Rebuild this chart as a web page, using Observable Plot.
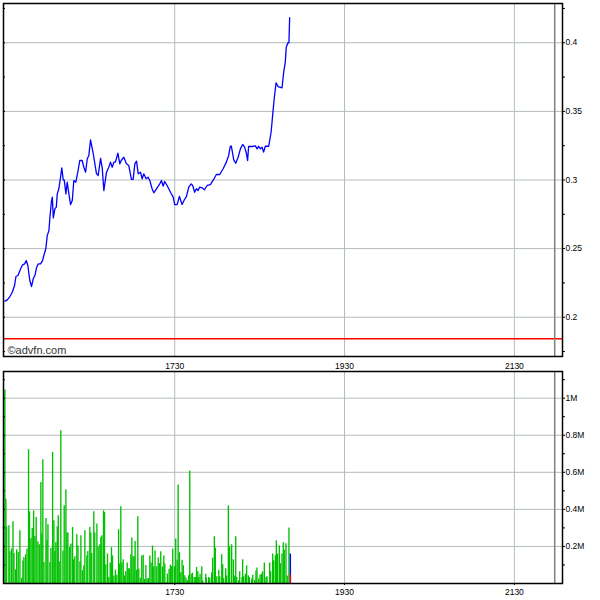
<!DOCTYPE html>
<html><head><meta charset="utf-8">
<script src="https://cdn.jsdelivr.net/npm/d3@7"></script>
<script src="https://cdn.jsdelivr.net/npm/@observablehq/plot@0.6"></script>
<style>
body{margin:0;background:#fff;}
#chart{position:relative;width:600px;height:600px;}
#chart svg{position:absolute;left:0;display:block;}
</style></head><body><div id="chart"></div>
<script>
// ---- data ----
const sessionStart = "15:30";
const viewStart = "15:29";
const viewEnd = "22:04";
const endMarker = "21:58.5";
const timeTicks = ["17:30", "19:30", "21:30"];
const prevClose = 0.1843;
const priceTicks = [0.2, 0.25, 0.3, 0.35, 0.4];
const priceMinor = [0.175, 0.225, 0.275, 0.325, 0.375, 0.425];
const priceDomain = [0.1714, 0.4286];
const volTicks = [200000, 400000, 600000, 800000, 1000000];
const volMinor = [100000, 300000, 500000, 700000, 900000, 1100000];
const volMax = 1144000;

// price: minutes after session start, price
const priceOffset = [0,1.7,3.5,5.2,6.8,7.8,9.2,11.1,12.5,13.9,
15.1,16.2,17.6,18.8,20.0,21.2,22.4,23.6,25.2,26.6,
27.5,28.9,29.9,31.1,31.8,32.8,33.5,34.2,35.3,36.3,
37.0,38.1,39.3,40.2,41.2,41.9,43.1,44.0,45.2,46.4,
47.6,48.7,50.1,51.5,52.9,54.6,55.8,57.0,58.2,59.3,
60.5,62.4,64.7,65.9,67.6,68.8,69.9,71.8,73.4,74.6,
75.8,77.0,78.1,79.8,81.2,82.2,84.0,85.9,87.5,89.4,
90.6,91.8,93.0,94.2,95.8,97.0,98.1,99.8,101.2,102.4,
104.0,105.2,107.1,109.4,110.6,111.8,112.9,114.6,117.0,118.9,
120.0,121.7,123.3,125.2,126.8,128.3,129.9,131.6,132.7,134.1,
135.3,136.5,137.6,139.3,141.0,142.9,145.2,147.5,149.4,151.8,
154.2,156.5,158.1,159.3,160.0,161.7,163.1,164.8,166.4,168.0,
169.4,170.6,171.5,172.2,174.6,177.0,178.2,179.3,180.5,181.7,
182.8,184.0,186.4,188.1,189.5,190.4,191.6,193.0,195.8,197.0,
198.1,198.8,200.0,200.7,201.2];
const priceValue = [.2117,.2127,.2151,.2182,.2231,.2297,.2304,.2353,.2382,.2389,
.2413,.2377,.2268,.2224,.2280,.2304,.2364,.2389,.2389,.2413,
.2450,.2499,.2595,.2632,.2729,.2838,.2875,.2724,.2790,.2802,
.2899,.2936,.3020,.3089,.3001,.3001,.2899,.2984,.2899,.2821,
.2851,.2996,.2984,.3057,.3142,.3142,.3093,.3057,.3155,.3179,
.3293,.3193,.3047,.3033,.3157,.3084,.2923,.3057,.3093,.3130,
.3093,.3130,.3130,.3195,.3118,.3142,.3166,.3118,.3106,.3004,
.3004,.3118,.3137,.3045,.3057,.3009,.3045,.3009,.3020,.2996,
.2936,.2907,.2936,.2972,.2996,.2955,.2989,.2960,.2911,.2875,
.2821,.2821,.2880,.2821,.2856,.2880,.2948,.2972,.2960,.2911,
.2936,.2923,.2948,.2943,.2929,.2960,.2967,.3004,.3040,.3040,
.3082,.3130,.3179,.3246,.3246,.3147,.3122,.3166,.3227,.3259,
.3239,.3195,.3142,.3244,.3244,.3249,.3227,.3246,.3227,.3239,
.3203,.3246,.3246,.3348,.3507,.3603,.3708,.3681,.3672,.3786,
.3859,.3968,.4000,.4000,.4182];

// volume: minutes after session start, volume in thousands
const volOffset = [0.0,0.7,1.2,2.8,3.5,4.7,5.7,6.4,7.6,8.3,
9.4,10.6,11.8,12.7,13.4,14.6,15.6,16.7,17.4,18.4,
19.3,20.3,21.2,22.1,23.3,24.3,25.4,26.1,26.8,27.6,
29.0,29.7,30.4,31.8,32.5,33.7,34.6,35.3,36.0,37.0,
37.7,38.8,39.5,41.0,41.9,43.1,43.8,44.5,45.7,46.6,
47.8,48.5,49.4,50.8,51.6,53.0,53.7,54.8,55.8,56.5,
57.9,58.6,60.0,60.7,61.4,62.8,63.5,65.0,65.9,67.1,
67.8,68.5,69.7,70.4,71.3,72.5,73.4,74.4,75.3,76.0,
77.0,78.1,79.1,80.3,81.0,81.9,82.6,83.6,84.5,85.4,
86.4,87.1,88.0,89.0,89.7,90.6,91.3,92.0,93.0,93.9,
94.6,95.6,96.7,97.7,98.6,99.6,100.5,101.4,102.4,103.3,
104.3,105.2,106.1,107.3,108.3,109.2,110.1,111.3,112.3,113.0,
113.9,114.8,116.0,116.9,117.9,118.6,119.8,120.7,121.7,122.4,
123.3,124.3,125.2,126.1,127.1,128.0,129.0,129.9,130.6,131.6,
132.5,133.7,
134.5,135.4,136.3,137.0,137.9,139.1,139.8,141.9,142.4,144.0,
144.7,146.1,146.8,148.0,148.7,149.7,151.1,151.8,153.2,153.9,
154.6,156.0,156.7,157.9,158.8,160.2,161.4,162.4,163.1,163.8,
165.2,165.9,167.5,168.0,168.7,169.9,170.8,172.0,172.7,174.4,
175.1,176.5,177.4,178.1,179.3,180.3,181.2,182.1,183.3,184.5,
185.2,187.1,187.8,189.2,189.9,191.1,191.8,192.7,193.9,194.6,
195.8,196.7,197.4,198.6,199.5,200.7];
const volK = [1044,455,306,311,171,186,333,162,74,182,
167,284,27,122,140,155,186,722,387,243,
297,392,254,356,225,209,545,267,668,113,
351,234,317,113,189,707,338,173,221,306,
365,117,824,176,419,506,272,272,194,213,
302,128,144,263,203,117,257,69,96,284,
149,173,302,272,162,387,272,321,198,209,
248,257,392,383,101,159,32,110,194,149,
41,72,45,290,105,414,112,128,41,65,
110,81,78,155,245,144,144,227,72,360,
78,29,149,153,22,97,24,27,148,110,
202,90,176,90,137,108,171,90,149,105,
5,51,76,99,92,186,90,240,126,531,
166,58,126,96,42,29,15,42,607,50,
56,32,
32,86,63,32,50,90,15,50,29,32,
27,58,137,252,191,36,72,36,155,101,
27,80,41,419,198,209,128,41,252,32,
15,63,32,128,36,50,96,41,32,24,
45,18,68,83,24,45,50,63,110,32,
36,110,63,159,122,149,230,159,203,108,
159,220,180,214,41,299];
const lastOffset = 201.7;
const lastVolK = 159;
const lastDownK = 46;

// ---- helpers ----
const toMin = s => { const [h, m] = s.split(":"); return +h * 60 + +m; };
const fmtTime = v => String(Math.floor(v / 60)) + String(Math.round(v % 60)).padStart(2, "0");
const t0 = toMin(sessionStart);
const xDomain = [toMin(viewStart), toMin(viewEnd)];
const tickMins = timeTicks.map(toMin);
const endMin = toMin(endMarker);

const priceData = priceOffset.map((o, i) => ({t: t0 + o, p: priceValue[i]}));
const volData = volOffset.map((o, i) => ({t: t0 + o, v: volK[i] * 1000}));
const lastBar = [{t: t0 + lastOffset, v: lastVolK * 1000, d: lastDownK * 1000}];

const gridColor = "#b3bbbb";
const font = {fontFamily: "'Liberation Sans', Arial, sans-serif", fontSize: "8.5px", background: "transparent", overflow: "visible"};
const W = 600, ML = 3, MR = 38;
const inDomain = (d, lo, hi) => d > lo && d < hi;

const pricePlot = Plot.plot({
  width: W, height: 370,
  marginLeft: ML, marginRight: MR, marginTop: 3, marginBottom: 14,
  style: font,
  x: {domain: xDomain, axis: null},
  y: {domain: priceDomain, axis: null},
  marks: [
    Plot.gridY(priceTicks, {stroke: gridColor, strokeOpacity: 1}),
    Plot.gridX(tickMins, {stroke: gridColor, strokeOpacity: 1}),
    Plot.ruleY([prevClose], {stroke: "#ff0000", strokeWidth: 1.5}),
    Plot.ruleX([endMin], {stroke: "#808080", strokeWidth: 1.5}),
    Plot.line(priceData, {x: "t", y: "p", stroke: "#0000ff", strokeWidth: 1.3}),
    Plot.axisY(priceTicks, {anchor: "right", label: null, tickSize: 2, tickPadding: 1, tickFormat: d => String(d), fill: "#000"}),
    Plot.axisY(priceMinor.filter(d => inDomain(d, ...priceDomain)), {anchor: "right", label: null, tickSize: 2, text: null}),
    Plot.axisY([...priceTicks, ...priceMinor].filter(d => inDomain(d, ...priceDomain)), {anchor: "left", label: null, tickSize: 2, dx: 2, text: null}),
    Plot.axisX(tickMins, {anchor: "bottom", label: null, tickSize: 0, tickPadding: 6, tickFormat: fmtTime, fill: "#000"}),
    Plot.text(["©advfn.com"], {text: d => d, frameAnchor: "bottom-left", dx: 4, dy: -3, fontSize: 11, fill: "#333"}),
    Plot.frame({stroke: "#000", strokeWidth: 1.5})
  ]
});
pricePlot.style.top = "0px";

const volumePlot = Plot.plot({
  width: W, height: 230,
  marginLeft: ML, marginRight: MR, marginTop: 1, marginBottom: 17,
  style: font,
  x: {domain: xDomain, axis: null},
  y: {domain: [0, volMax], axis: null},
  marks: [
    Plot.gridY(volTicks, {stroke: gridColor, strokeOpacity: 1}),
    Plot.gridX(tickMins, {stroke: gridColor, strokeOpacity: 1}),
    Plot.ruleX([endMin], {stroke: "#808080", strokeWidth: 1.5}),
    Plot.ruleX(volData, {x: "t", y: "v", stroke: "#00c000", strokeWidth: 1.35}),
    Plot.ruleX(lastBar, {x: "t", y: "v", stroke: "#0000ff", strokeWidth: 1.4}),
    Plot.ruleX(lastBar, {x: "t", y: "d", stroke: "#ff0000", strokeWidth: 1.4}),
    Plot.axisY(volTicks, {anchor: "right", label: null, tickSize: 2, tickPadding: 1, tickFormat: v => (v / 1e6) + "M", fill: "#000"}),
    Plot.axisY(volMinor.filter(d => d < volMax), {anchor: "right", label: null, tickSize: 2, text: null}),
    Plot.axisY([...volTicks, ...volMinor].filter(d => d < volMax), {anchor: "left", label: null, tickSize: 2, dx: 2, text: null}),
    Plot.axisX(tickMins, {anchor: "bottom", label: null, tickSize: 2, tickPadding: 3, tickFormat: fmtTime, fill: "#000"}),
    Plot.frame({stroke: "#000", strokeWidth: 1.5})
  ]
});
volumePlot.style.top = "370px";

document.getElementById("chart").append(pricePlot, volumePlot);
</script>
</body></html>
